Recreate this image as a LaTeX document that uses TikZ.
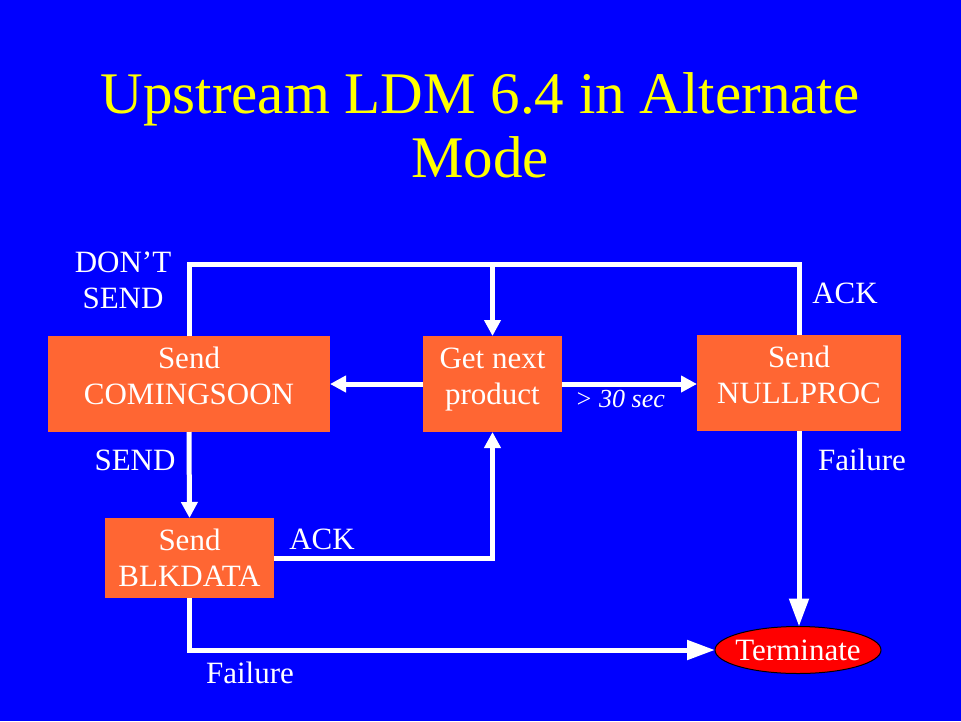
\documentclass[tikz,border=0pt]{standalone}
\usepackage{fontspec}
\setmainfont{Liberation Serif}
\usepackage{tikz}
\usetikzlibrary{shapes.geometric,arrows,arrows.meta,calc,positioning}
\definecolor{slideblue}{RGB}{0,0,255}
\definecolor{boxorange}{RGB}{255,102,51}
\definecolor{titleyellow}{RGB}{255,255,0}
\newcommand{\slidefont}{\fontsize{31}{36}\selectfont}

\begin{document}
\begin{tikzpicture}[x=1pt, y=-1pt, line width=5pt, white,
    >={Triangle[length=16pt,width=16pt]},
    bigtip/.style={-{Triangle[length=28pt,width=19pt]}}]
   \fill[slideblue] (0,0) rectangle (961,721);
   \node[text=titleyellow, align=center, font=\fontsize{59}{64}\selectfont] (title) at (480,125)
      {Upstream LDM 6.4 in Alternate\\Mode};
   \begin{scope}[every node/.style={rectangle,fill=boxorange,text=white,align=center,inner sep=0pt,outer sep=0pt,font=\slidefont}]
    \node (cs) [minimum width=282pt, minimum height=96pt, text depth=16pt] at (189,384) {Send\\COMINGSOON};
    \node (gnp) [minimum width=139pt, minimum height=96pt, text depth=16pt] at (492.5,384) {Get next\\product};
    \node (np) [minimum width=204pt, minimum height=96pt, text depth=16pt] at (799,383) {Send\\NULLPROC};
    \node (bd) [minimum width=169pt, minimum height=80pt] at (189.5,558) {Send\\BLKDATA};
    \node (term) [ellipse, fill=red, draw=black, line width=1pt, inner xsep=-5pt, minimum width=166pt, minimum height=47pt] at (798,650) {Terminate};
   \end{scope}
   \coordinate (tl) at (189,264);
   \coordinate (tr) at (799,264);
   \begin{scope}[->]
    \draw[-] (cs.north) -- (tl) -- (tr) -- (np.north);
    \draw (gnp.north |- tl) -- (gnp.north);
    \draw (gnp.west) -- (cs.east);
    \draw (gnp.east) -- (np.west |- gnp.east);
    \draw (cs.south) -- (bd.north);
    \draw (bd.east) -| (gnp.south);
    \draw[bigtip] (bd.south) |- (term.west);
    \draw[bigtip] (np.south) -- (np.south |- term.north);
   \end{scope}
   \begin{scope}[every node/.style={text=white,font=\slidefont,inner sep=0pt}]
    \node (dontsend) [align=center] at (123,280) {DON'T\\SEND};
    \node (ackup) [anchor=base] at (845,303) {ACK};
    \node (send) [anchor=base] at (135,470) {SEND};
    \node (failnp) [anchor=base] at (862,470) {Failure};
    \node (ackbd) [anchor=base] at (322,549) {ACK};
    \node (failbd) [anchor=base] at (250,683) {Failure};
    \node (wait) [anchor=base,font=\fontsize{26}{30}\selectfont\itshape] at (620,407) {> 30 sec};
   \end{scope}
\end{tikzpicture}
\end{document}
